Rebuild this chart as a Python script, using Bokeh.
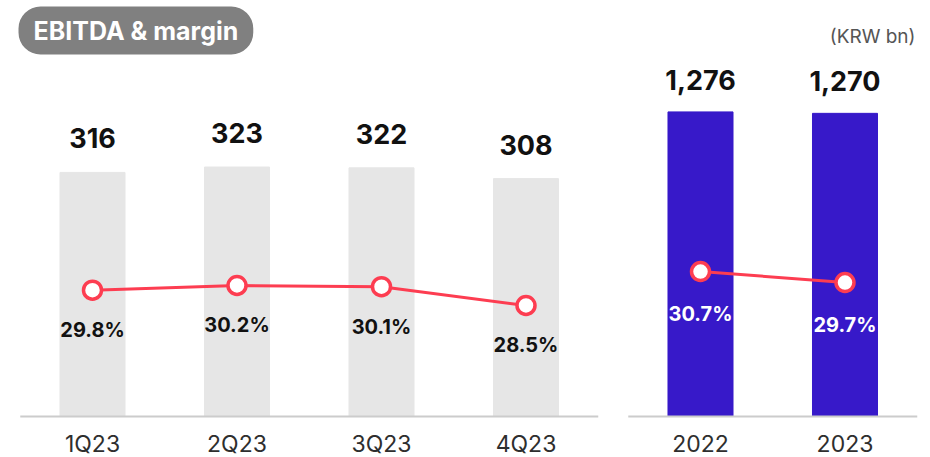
from bokeh.plotting import figure
from bokeh.layouts import row
from bokeh.models import Range1d, Label, ColumnDataSource
from bokeh.core.properties import value
from bokeh.embed import file_html
from bokeh.resources import INLINE

# ---- data ----
quarters = ["1Q23", "2Q23", "3Q23", "4Q23"]
q_ebitda = [316, 323, 322, 308]
q_margin = [29.8, 30.2, 30.1, 28.5]
years = ["2022", "2023"]
y_ebitda = [1276, 1270]
y_margin = [30.7, 29.7]
title_text = "EBITDA & margin"
unit_text = "(KRW bn)"

FONT = value("Inter")
RED = "#fd3d51"
H = 457
BASE = 416      # page y of the baseline
STEP = 144.5    # px per category


def panel(cats, vals, margins, width, xr, yr, mr, bar_color, mtxt_color,
          val_off, m_off):
    p = figure(width=width, height=H, x_range=Range1d(*xr), y_range=Range1d(*yr),
               output_backend="svg", toolbar_location=None,
               x_axis_location=None, y_axis_location=None, min_border=0,
               outline_line_color=None, border_fill_color="white",
               background_fill_color="white")
    p.grid.visible = False
    p.extra_y_ranges = {"m": Range1d(*mr)}
    xs = list(range(len(cats)))
    src = ColumnDataSource(dict(
        x=xs, cat=cats, v=vals, vl=[f"{v:,}" for v in vals],
        m=margins, ml=[f"{m:.1f}%" for m in margins]))
    p.vbar(x="x", top="v", bottom=0, width=0.45, color=bar_color, source=src)
    p.segment(x0=[-0.5], x1=[len(cats) - 0.5], y0=[0], y1=[0],
              line_color="#cccccc", line_width=2)
    p.text(x="x", y="v", text="vl", source=src, text_align="center",
           text_baseline="middle", y_offset=-val_off, text_font=FONT,
           text_font_style="bold", text_font_size="27px", text_color="#111111")
    p.text(x="x", y=0, text="cat", source=src, text_align="center",
           text_baseline="middle", y_offset=27, text_font=FONT,
           text_font_size="23px", text_color="#2e2e2e")
    p.line(x="x", y="m", y_range_name="m", line_color=RED, line_width=3, source=src)
    p.scatter(x="x", y="m", y_range_name="m", size=18, fill_color="white",
              line_color=RED, line_width=3.5, source=src)
    p.text(x="x", y="m", y_range_name="m", text="ml", source=src,
           text_align="center", text_baseline="middle", y_offset=m_off,
           text_font=FONT, text_font_style="bold", text_font_size="20px",
           text_color=mtxt_color)
    return p


below = H - BASE

# left panel: page x 0..613, first category centred at x=92
lk = 0.7724
lm0, lmk = 19.06, 11.76
p1 = panel(quarters, q_ebitda, q_margin, 613,
           (-92 / STEP, 521 / STEP), (-below / lk, BASE / lk),
           (lm0 - below / lmk, lm0 + BASE / lmk),
           "#e6e6e6", "#111111", 34, 40)
p1.add_layout(Label(x=(18 - 92) / STEP, y=(BASE - 30) / lk, text=title_text,
                    text_align="left", text_baseline="middle",
                    text_font="Inter", text_font_style="bold",
                    text_font_size="25px", text_color="white",
                    background_fill_color="#808080",
                    padding=dict(left=15, right=15, top=9, bottom=9),
                    border_radius=22))

# right panel: page x 613..930, first category centred at x=700
rk = 0.2387
rm0, rmk = 17.52, 11.0
p2 = panel(years, y_ebitda, y_margin, 317,
           (-87 / STEP, 230 / STEP), (-below / rk, BASE / rk),
           (rm0 - below / rmk, rm0 + BASE / rmk),
           "#3719c9", "white", 32, 42)
p2.add_layout(Label(x=(915 - 700) / STEP, y=(BASE - 36) / rk, text=unit_text,
                    text_align="right", text_baseline="middle",
                    text_font="Inter", text_font_size="19px",
                    text_color="#555555"))

layout = row(p1, p2, spacing=0)
open("out.html", "w").write(file_html(layout, INLINE))
